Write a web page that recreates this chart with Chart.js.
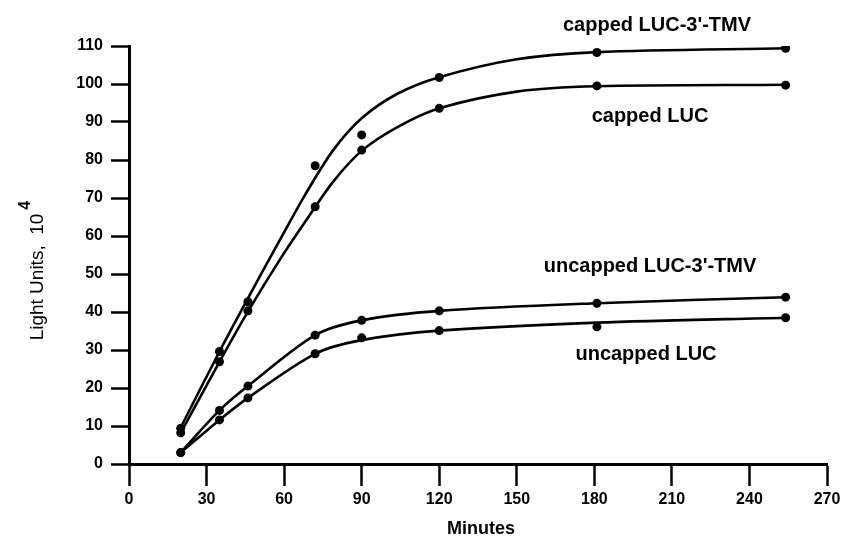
<!DOCTYPE html>
<html>
<head>
<meta charset="utf-8">
<script src="https://cdn.jsdelivr.net/npm/chart.js@4/dist/chart.umd.min.js"></script>
<style>
  html, body { margin: 0; padding: 0; background: #fff; }
  #wrap { width: 846px; height: 544px; position: relative; }
</style>
</head>
<body>
<div id="wrap"><canvas id="chart"></canvas></div>
<script>
// measured points (minutes, light units x 10^4)
const minutes = [20, 35, 46, 72, 90, 120, 181, 254];
const cappedTmv = [9.4, 29.6, 42.7, 78.5, 86.6, 101.7, 108.3, 109.4];
const cappedLuc = [8.2, 26.9, 40.3, 67.7, 82.6, 93.6, 99.5, 99.7];
const uncappedTmv = [3.0, 14.1, 20.5, 33.9, 37.8, 40.3, 42.3, 43.9];
const uncappedLuc = [3.0, 11.6, 17.4, 29.0, 33.2, 35.1, 36.1, 38.5];

// fitted curves
const curveMinutes = [20, 35, 46, 58, 68, 79, 90, 104, 120, 150, 181, 254];
const cappedTmvCurve = [9.6, 29.6, 43.6, 58.5, 70.7, 82.6, 91.0, 97.5, 101.8, 106.5, 108.4, 109.4];
const cappedLucCurve = [8.2, 26.9, 40.1, 53.4, 63.6, 74.3, 82.4, 88.7, 93.6, 98.0, 99.4, 99.8];
const uncappedTmvCurve = [3.0, 14.1, 20.5, 33.9, 37.8, 40.3, 42.3, 43.9];
const uncappedLucCurve = [3.0, 11.6, 17.4, 29.0, 32.6, 35.1, 37.2, 38.5];

const xTicks = [0, 30, 60, 90, 120, 150, 180, 210, 240, 270];
const yTicks = [0, 10, 20, 30, 40, 50, 60, 70, 80, 90, 100, 110];

const seriesLabels = [
  { text: "capped LUC-3'-TMV", x: 657, y: 31 },
  { text: "capped LUC", x: 650, y: 122 },
  { text: "uncapped LUC-3'-TMV", x: 650, y: 272 },
  { text: "uncapped LUC", x: 646, y: 360 },
];

const FONT = "'Liberation Sans', Arial, sans-serif";

const toXY = (xs, ys) => xs.map((x, i) => ({ x: x, y: ys[i] }));

const curve = (xs, ys) => ({
  data: toXY(xs, ys),
  showLine: true,
  borderColor: "#000",
  borderWidth: 2.6,
  pointRadius: 0,
  tension: 0.3,
  fill: false,
});

const marks = (ys) => ({
  data: toXY(minutes, ys),
  showLine: false,
  pointRadius: 4.5,
  pointBackgroundColor: "#000",
  pointBorderColor: "#000",
  pointBorderWidth: 0,
});

// text annotations + y title with superscript
const textPlugin = {
  id: "texts",
  afterDraw(chart) {
    const ctx = chart.ctx;
    ctx.save();
    ctx.fillStyle = "#000";
    ctx.textAlign = "center";
    ctx.textBaseline = "alphabetic";
    ctx.font = "bold 20px " + FONT;
    seriesLabels.forEach((l) => ctx.fillText(l.text, l.x, l.y));

    ctx.font = "bold 18px " + FONT;
    ctx.fillText("Minutes", 481, 534);

    // rotated y title
    ctx.translate(43, 272);
    ctx.rotate(-Math.PI / 2);
    ctx.font = "19px " + FONT;
    const main = "Light Units,  10";
    const w = ctx.measureText(main).width;
    ctx.textAlign = "left";
    ctx.fillText(main, -w / 2 - 5, 0);
    ctx.font = "bold 16px " + FONT;
    ctx.fillText("4", w / 2 - 1, -13);
    ctx.restore();
  },
};

const axisCommon = {
  type: "linear",
  border: { display: true, color: "#000", width: 3 },
  grid: {
    drawOnChartArea: false,
    drawTicks: true,
    tickLength: 18,
    tickColor: "#000",
    tickWidth: 2.5,
  },
};

new Chart(document.getElementById("chart"), {
  type: "scatter",
  data: {
    datasets: [
      curve(curveMinutes, cappedTmvCurve),
      curve(curveMinutes, cappedLucCurve),
      curve(minutes, uncappedTmvCurve),
      curve(minutes, uncappedLucCurve),
      marks(cappedTmv),
      marks(cappedLuc),
      marks(uncappedTmv),
      marks(uncappedLuc),
    ],
  },
  options: {
    responsive: true,
    maintainAspectRatio: false,
    animation: false,
    layout: { padding: { top: 46, right: 19, left: 0, bottom: 0 } },
    plugins: {
      legend: { display: false },
      tooltip: { enabled: false },
    },
    scales: {
      x: {
        ...axisCommon,
        min: 0,
        max: 270,
        grid: { ...axisCommon.grid, tickLength: 22 },
        afterBuildTicks: (s) => { s.ticks = xTicks.map((v) => ({ value: v })); },
        ticks: {
          color: "#000",
          font: { family: FONT, size: 16, weight: "bold" },
          padding: 4,
          maxRotation: 0,
        },
        afterFit: (s) => { s.height = 80; },
      },
      y: {
        ...axisCommon,
        min: 0,
        max: 110,
        afterBuildTicks: (s) => { s.ticks = yTicks.map((v) => ({ value: v })); },
        ticks: {
          color: "#000",
          font: { family: FONT, size: 16, weight: "bold" },
          padding: 8,
        },
        afterFit: (s) => { s.width = 129; },
      },
    },
  },
  plugins: [textPlugin],
});
</script>
</body>
</html>
